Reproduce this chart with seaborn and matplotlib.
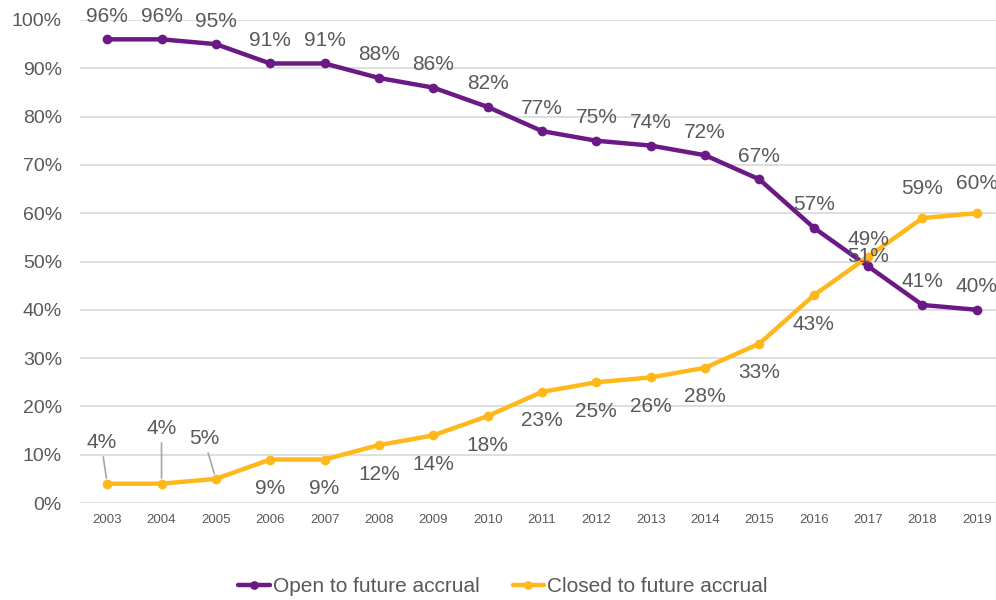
import matplotlib
matplotlib.use("Agg")
import matplotlib.pyplot as plt
import seaborn as sns
import pandas as pd

years = [str(y) for y in range(2003, 2020)]
open_vals = [96, 96, 95, 91, 91, 88, 86, 82, 77, 75, 74, 72, 67, 57, 49, 41, 40]
closed_vals = [4, 4, 5, 9, 9, 12, 14, 18, 23, 25, 26, 28, 33, 43, 51, 59, 60]
series_names = ["Open to future accrual", "Closed to future accrual"]
colors = ["#6B1A85", "#FFB81C"]

sns.set_theme(style="white")
plt.rcParams["font.family"] = ["Liberation Sans", "DejaVu Sans"]

df = pd.DataFrame({
    "year": years * 2,
    "idx": list(range(len(years))) * 2,
    "value": [v / 100 for v in open_vals] + [v / 100 for v in closed_vals],
    "series": [series_names[0]] * len(years) + [series_names[1]] * len(years),
})

fig = plt.figure(figsize=(9.96, 6.0), dpi=100)
ax = fig.add_axes([80 / 996, 1 - 503 / 600, 924 / 996, 483 / 600])

sns.lineplot(data=df, x="idx", y="value", hue="series", palette=colors,
             marker="o", markersize=7, markeredgewidth=0, linewidth=3.2,
             ax=ax, legend=True)

txt = "#595959"
lab_fs = 15
ax.set_xlim(-0.5, len(years) - 0.5)
ax.set_ylim(0, 1)
ax.set_yticks([i / 10 for i in range(11)])
ax.set_yticklabels([f"{i * 10}%" for i in range(11)], fontsize=14, color=txt)
ax.set_xticks(range(len(years)))
ax.set_xticklabels(years, fontsize=9.5, color=txt)
ax.tick_params(axis="y", length=0, pad=13)
ax.tick_params(axis="x", length=0, pad=8)
ax.set_xlabel("")
ax.set_ylabel("")
ax.grid(axis="y", color="#D9D9D9", linewidth=1.2)
ax.set_axisbelow(True)
for s in ax.spines.values():
    s.set_visible(False)

# labels for the open series sit above the points
for i, v in enumerate(open_vals):
    dy = 27 if i == 14 else 23
    ax.annotate(f"{v}%", (i, v / 100), xytext=(0, dy), textcoords="offset pixels",
                ha="center", va="center", fontsize=lab_fs, color=txt)

# labels for the closed series: leader lines for the first three, above at the end
leader = {0: (-6, 41), 1: (0, 55), 2: (-12, 40)}
for i, v in enumerate(closed_vals):
    if i in leader:
        ax.annotate(f"{v}%", (i, v / 100), xytext=leader[i], textcoords="offset pixels",
                    ha="center", va="center", fontsize=lab_fs, color=txt,
                    arrowprops=dict(arrowstyle="-", color="#A6A6A6", lw=1.2,
                                    shrinkA=1, shrinkB=4))
    elif i == 14:
        ax.annotate(f"{v}%", (i, v / 100), xytext=(0, 0), textcoords="offset pixels",
                    ha="center", va="center", fontsize=lab_fs, color=txt)
    elif i >= 15:
        ax.annotate(f"{v}%", (i, v / 100), xytext=(0, 30), textcoords="offset pixels",
                    ha="center", va="center", fontsize=lab_fs, color=txt)
    else:
        ax.annotate(f"{v}%", (i, v / 100), xytext=(0, -29), textcoords="offset pixels",
                    ha="center", va="center", fontsize=lab_fs, color=txt)

handles, labels = ax.get_legend_handles_labels()
ax.legend(handles, labels, loc="center", bbox_to_anchor=(503 / 996, 13 / 600),
          bbox_transform=fig.transFigure, ncol=2, frameon=False, fontsize=lab_fs,
          handlelength=1.5, handletextpad=0.15, columnspacing=1.6,
          labelcolor=txt, markerscale=0.9)

fig.savefig("out.png", dpi=100)
